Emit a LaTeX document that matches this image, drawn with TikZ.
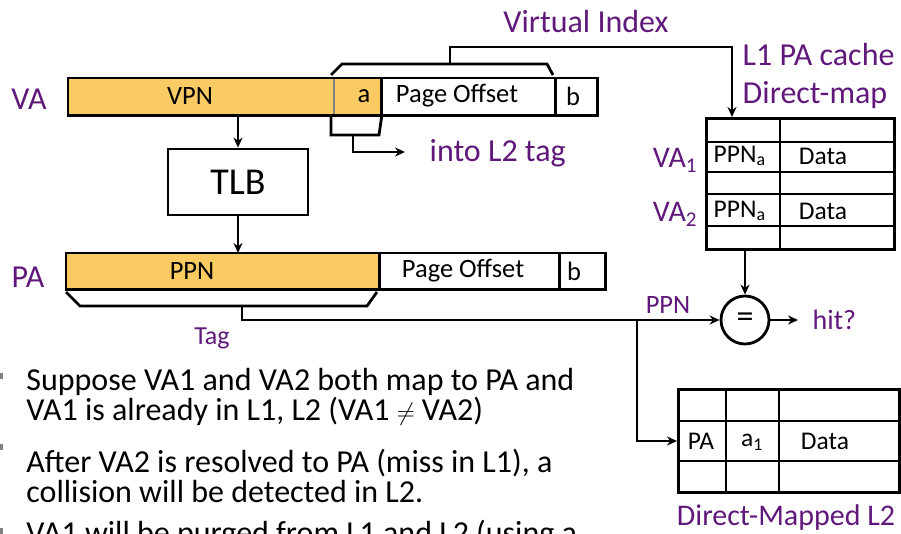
\documentclass[tikz,border=0pt]{standalone}
\usepackage{fontspec}
\setmainfont{Carlito}
\usepackage{tikz}
\usetikzlibrary{arrows.meta,arrows}
\usetikzlibrary{positioning}

\definecolor{labelpurple}{RGB}{96,24,122}
\definecolor{vpnorange}{RGB}{250,203,98}

\begin{document}
\begin{tikzpicture}[x=1pt,y=-1pt,line width=2.8pt]

        \useasboundingbox (0,0) rectangle (901,534);

        % address fields
        \begin{scope}[every node/.style={rectangle,inner sep=0,minimum height=35,anchor=north west}]
            \node[fill=vpnorange,minimum width=263] (vpn) at (68,78) {};
            \node[fill=vpnorange,minimum width=48] (abits) at (331,78) {};
            \node[minimum width=174] (vaoff) at (379,78) {};
            \node[minimum width=42] (bbits) at (553,78) {};
            \node[fill=vpnorange,minimum width=311,minimum height=34] (ppn) at (66,253) {};
            \node[minimum width=180,minimum height=34] (paoff) at (377,253) {};
            \node[minimum width=46,minimum height=34] (pbits) at (557,253) {};
        \end{scope}
        \draw[gray,line width=1.6pt] (vpn.north east) -- (vpn.south east);
        \draw (vpn.north west) rectangle (bbits.south east);
        \draw (abits.north east) -- (abits.south east);
        \draw (vaoff.north east) -- (vaoff.south east);
        \draw (ppn.north west) rectangle (pbits.south east);
        \draw (ppn.north east) -- (ppn.south east);
        \draw (paoff.north east) -- (paoff.south east);

        \begin{scope}[every node/.style={font=\fontsize{26.5}{30}\selectfont}]
            \node (vpntext) at (190,96) {VPN};
            \node (atext) at (364,96) {a};
            \node (vaofftext) at (457,96) {Page Offset};
            \node (btext) at (573,96) {b};
            \node (ppntext) at (192,271) {PPN};
            \node (paofftext) at (463,271) {Page Offset};
            \node (pbtext) at (574,271) {b};
        \end{scope}

        \node[draw,minimum width=140,minimum height=66,
            font=\fontsize{38}{40}\selectfont] (tlb) at (238,182) {TLB};

        % caches
        \node[draw,inner sep=0,minimum width=188,minimum height=131,
            anchor=north west] (l1tab) at (705,117) {};
        \draw (780,117) -- (780,248)
            (705,142) -- (893,142) (705,172) -- (893,172)
            (705,194) -- (893,194) (705,226) -- (893,226);
        \node[draw,inner sep=0,minimum width=221,minimum height=103,
            anchor=north west] (l2tab) at (677,388) {};
        \draw (726,388) -- (726,491) (779,388) -- (779,491)
            (677,421) -- (898,421) (677,461) -- (898,461);
        \node[draw,circle,minimum size=48,inner sep=0,
            font=\fontsize{34}{34}\selectfont] (eq) at (745,320) {=};

        \begin{scope}[every node/.style={font=\fontsize{25.5}{28}\selectfont}]
            \node[anchor=west] (ppnone) at (709,156) {PPN\textsubscript{a}};
            \node (dataone) at (823,156) {Data};
            \node[anchor=west] (ppntwo) at (709,211) {PPN\textsubscript{a}};
            \node (datatwo) at (823,211) {Data};
            \node (patext) at (701,441) {PA};
            \node (aonetext) at (752,442) {a\textsubscript{1}};
            \node (datathree) at (825,441) {Data};
        \end{scope}

        % purple labels
        \begin{scope}[every node/.style={text=labelpurple,font=\fontsize{32}{36}\selectfont}]
            \node (valabel) at (29,99) {VA};
            \node (palabel) at (28,277) {PA};
            \node (vindex) at (586,22) {Virtual Index};
            \node[anchor=west] (lonelabel) at (738,55) {L1 PA cache};
            \node[anchor=west] (dmlabel) at (738,95) {Direct-map};
            \node[anchor=west] (intotag) at (425,153) {into L2 tag};
            \node[font=\fontsize{30}{34}\selectfont] (ltwolabel) at (786,517) {Direct-Mapped L2};
            \node[font=\fontsize{30}{30}\selectfont] (vaone) at (675,160) {VA\textsubscript{1}};
            \node[font=\fontsize{30}{30}\selectfont] (vatwo) at (675,214) {VA\textsubscript{2}};
            \node[font=\fontsize{26}{28}\selectfont] (tagtext) at (212,338) {Tag};
            \node[font=\fontsize{26.5}{28}\selectfont] (ppnlabel) at (668,305) {PPN};
            \node[anchor=west,font=\fontsize{28}{28}\selectfont] (hit) at (808,320) {hit?};
        \end{scope}

        % brackets
        \draw (331,75) -- (342,64) -- (547,64) -- (553,75);
        \draw (abits.south west) -- (331,135) -- (379,135) -- (abits.south east);
        \draw (66,292) -- (80,306) -- (367,306) -- (377,292);

        \coordinate (vitop) at (450,64);
        \coordinate (l1in) at (732,117);
        \coordinate (tagout) at (353,135);
        \coordinate (tagend) at (405,152);
        \coordinate (ppnfork) at (242,306);
        \coordinate (split) at (637,320);
        \coordinate (l2in) at (677,441);
        \coordinate (hitend) at (798,320);

        \begin{scope}[>={Stealth[length=10pt,width=9pt]}]
            \draw[->] (vitop) -- (450,47) -| (l1in);
            \draw[->] (vpn.south -| tlb.north) -- (tlb.north);
            \draw[->] (tlb.south) -- (tlb.south |- ppn.north);
            \draw[->] (tagout) |- (tagend);
            \draw[->] (ppnfork) |- (eq.west);
            \draw[->] (split) |- (l2in);
            \draw[->] (l1tab.south -| eq) -- (eq.north);
            \draw[->] (eq.east) -- (hitend);
        \end{scope}

        % bullets
        \begin{scope}[every node/.style={anchor=base west,inner sep=0,
            font=\fontsize{32}{32}\selectfont}]
            \node (lineone) at (25,390) {Suppose VA1 and VA2 both map to PA and};
            \node (linetwo) at (25,420) {VA1 is already in L1, L2 (VA1 $\neq$ VA2)};
            \node (linethree) at (25,472) {After VA2 is resolved to PA (miss in L1), a};
            \node (linefour) at (25,502) {collision will be detected in L2.};
            \node (linefive) at (25,543) {VA1 will be purged from L1 and L2 (using a};
        \end{scope}
        \fill[gray] (-4,373) rectangle (3,379);
        \fill[gray] (-4,444) rectangle (3,450);
        \fill[gray] (-4,528) rectangle (3,534);

    \end{tikzpicture}
\end{document}
